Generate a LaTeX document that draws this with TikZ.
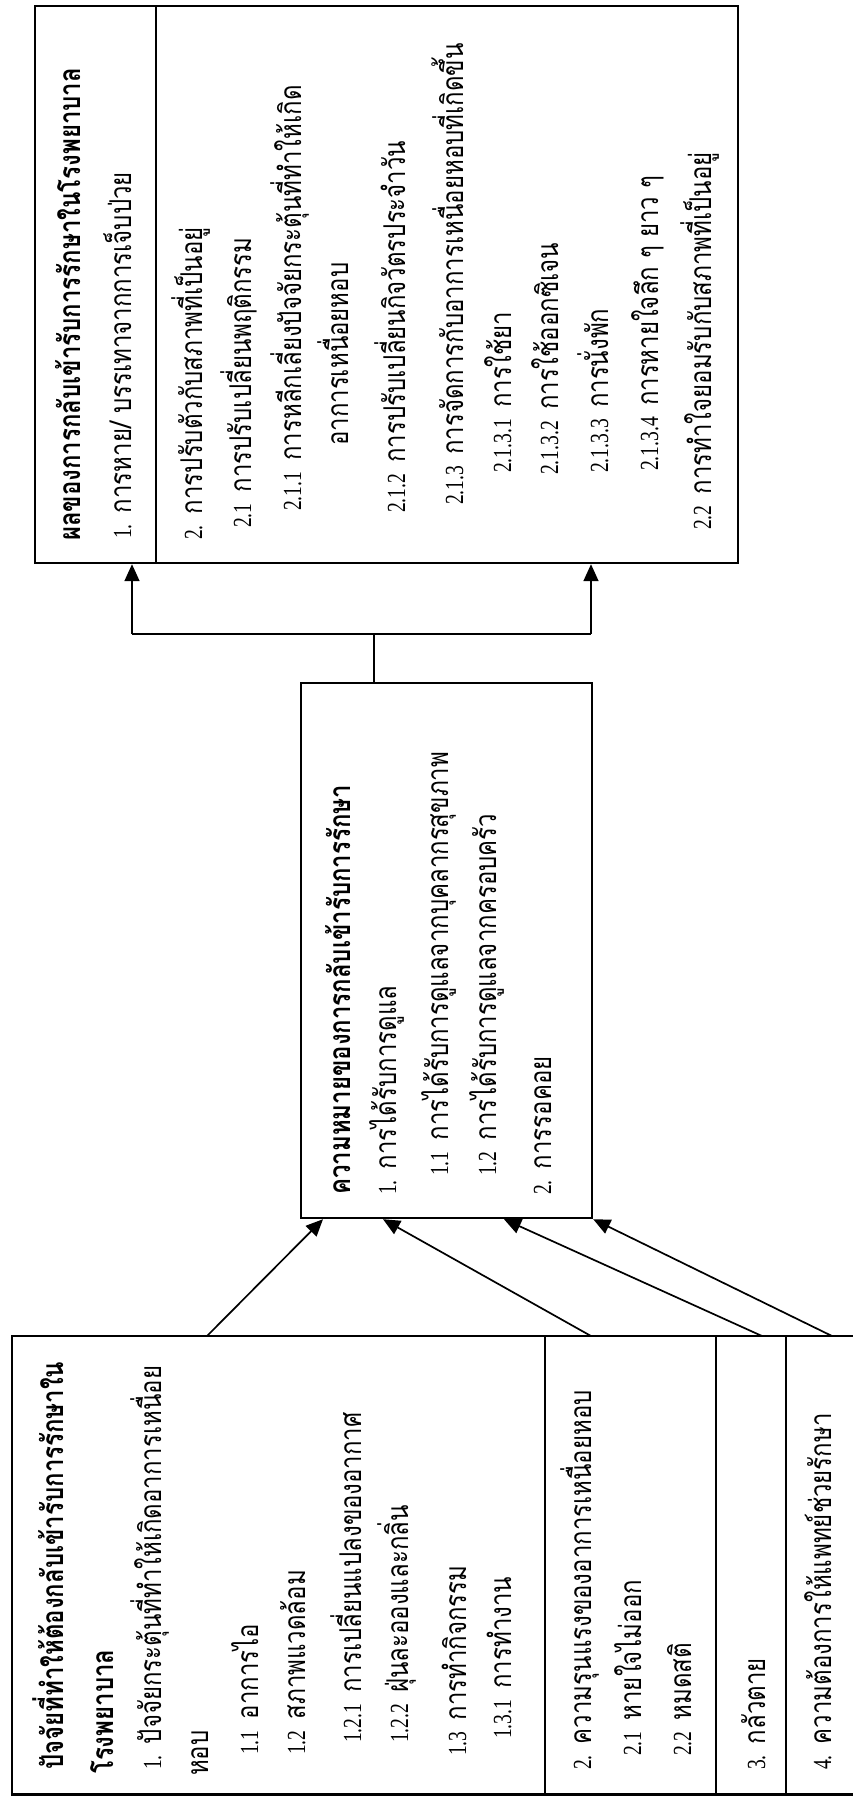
\documentclass[tikz,border=0pt]{standalone}
\usepackage{fontspec}
\setmainfont{Liberation Serif}
\newfontfamily\thf[Script=Thai,FakeStretch=0.8]{Loma}
\newfontfamily\numf[Scale=0.87,FakeStretch=0.75]{Liberation Serif}
\usetikzlibrary{arrows.meta}
\newcommand\lbl[2]{{\numf #1}\hspace{11pt}{\thf #2}}
\newcommand\tx[1]{{\thf #1}}
\begin{document}
\begin{tikzpicture}[x=1pt,y=-1pt,
  box/.style={draw, line width=2.2pt, inner sep=0pt, anchor=north west},
  sep/.style={line width=2.2pt},
  conn/.style={line width=1.7pt},
  arr/.style={conn, -{Triangle[length=17pt,width=15pt]}},
  txt/.style={rotate=90, anchor=base west, inner sep=0pt, font=\fontsize{30}{36}\selectfont},
]
\useasboundingbox (0,0) rectangle (853,1797);
\fill[white] (0,0) rectangle (853,1797);

% ---------- boxes ----------
\node[box, minimum width=703pt, minimum height=557pt] (R) at (34,5) {};
\draw[sep] (156,5) -- (156,562);
\node[box, minimum width=291pt, minimum height=535pt] (M) at (300,682) {};
\node[inner sep=0pt, anchor=north west, minimum width=841pt, minimum height=458pt] (L) at (12,1336) {};
\draw[sep] (L.north east) -- (L.north west) -- (L.south west) -- (L.south east);
\draw[sep] (545,1336) -- (545,1794);
\draw[sep] (716,1336) -- (716,1794);
\draw[sep] (786,1336) -- (786,1794);

% ---------- connectors ----------
\path (M.north west) ++(74,0) coordinate (mt);
\coordinate (b) at (374,634);
\coordinate (bl) at (132,634);
\coordinate (br) at (591,634);
\draw[conn] (mt) -- (b);
\draw[conn] (bl) -- (br);
\draw[arr] (bl) -- (bl |- R.south);
\draw[arr] (br) -- (br |- R.south);

\path (L.north west) ++(195,0) coordinate (s1);
\path (L.north west) ++(579,0) coordinate (s2);
\path (L.north west) ++(750,0) coordinate (s3);
\path (L.north west) ++(820,0) coordinate (s4);
\path (M.south west) ++(23,0) coordinate (t1);
\path (M.south west) ++(83,0) coordinate (t2);
\path (M.south west) ++(204,0) coordinate (t3);
\draw[arr] (s1) -- (t1);
\draw[arr] (s2) -- (t2);
\draw[arr] (s3) -- (t3);
\draw[arr] (s4) -- (M.south east);

% ---------- right box text ----------
\node[txt] (r0) at (80,541) {\bfseries\tx{ผลของการกลับเข้ารับการรักษาในโรงพยาบาล}};
\node[txt] (r1) at (131,539) {\lbl{1.}{การหาย/ บรรเทาจากการเจ็บป่วย}};
\node[txt] (r2) at (202,540) {\lbl{2.}{การปรับตัวกับสภาพที่เป็นอยู่}};
\node[txt] (r3) at (251,528) {\lbl{2.1}{การปรับเปลี่ยนพฤติกรรม}};
\node[txt] (r4) at (301,511) {\lbl{2.1.1}{การหลีกเลี่ยงปัจจัยกระตุ้นที่ทำให้เกิด}};
\node[txt] (r5) at (348,446) {\tx{อาการเหนื่อยหอบ}};
\node[txt] (r6) at (405,513) {\lbl{2.1.2}{การปรับเปลี่ยนกิจวัตรประจำวัน}};
\node[txt] (r7) at (463,505) {\lbl{2.1.3}{การจัดการกับอาการเหนื่อยหอบที่เกิดขึ้น}};
\node[txt] (r8) at (511,473) {\lbl{2.1.3.1}{การใช้ยา}};
\node[txt] (r9) at (558,475) {\lbl{2.1.3.2}{การใช้ออกซิเจน}};
\node[txt] (r10) at (608,473) {\lbl{2.1.3.3}{การนั่งพัก}};
\node[txt] (r11) at (658,471) {\lbl{2.1.3.4}{การหายใจลึก ๆ ยาว ๆ}};
\node[txt] (r12) at (711,530) {\lbl{2.2}{การทำใจยอมรับกับสภาพที่เป็นอยู่}};

% ---------- middle box text ----------
\node[txt] (m0) at (350,1195) {\bfseries\tx{ความหมายของการกลับเข้ารับการรักษา}};
\node[txt] (m1) at (396,1195) {\lbl{1.}{การได้รับการดูแล}};
\node[txt] (m2) at (448,1176) {\lbl{1.1}{การได้รับการดูแลจากบุคลากรสุขภาพ}};
\node[txt] (m3) at (496,1176) {\lbl{1.2}{การได้รับการดูแลจากครอบครัว}};
\node[txt] (m4) at (551,1195) {\lbl{2.}{การรอคอย}};

% ---------- left box text ----------
\node[txt] (l0) at (63,1770) {\bfseries\tx{ปัจจัยที่ทำให้ต้องกลับเข้ารับการรักษาใน}};
\node[txt] (l1) at (113,1774) {\bfseries\tx{โรงพยาบาล}};
\node[txt] (l2) at (161,1770) {\lbl{1.}{ปัจจัยกระตุ้นที่ทำให้เกิดอาการเหนื่อย}};
\node[txt] (l3) at (208,1776) {\tx{หอบ}};
\node[txt] (l4) at (258,1755) {\lbl{1.1}{อาการไอ}};
\node[txt] (l5) at (305,1755) {\lbl{1.2}{สภาพแวดล้อม}};
\node[txt] (l6) at (361,1743) {\lbl{1.2.1}{การเปลี่ยนแปลงของอากาศ}};
\node[txt] (l7) at (408,1743) {\lbl{1.2.2}{ฝุ่นละอองและกลิ่น}};
\node[txt] (l8) at (466,1756) {\lbl{1.3}{การทำกิจกรรม}};
\node[txt] (l9) at (511,1739) {\lbl{1.3.1}{การทำงาน}};
\node[txt] (l10) at (591,1770) {\lbl{2.}{ความรุนแรงของอาการเหนื่อยหอบ}};
\node[txt] (l11) at (641,1756) {\lbl{2.1}{หายใจไม่ออก}};
\node[txt] (l12) at (691,1756) {\lbl{2.2}{หมดสติ}};
\node[txt] (l13) at (765,1770) {\lbl{3.}{กลัวตาย}};
\node[txt] (l14) at (831,1770) {\lbl{4.}{ความต้องการให้แพทย์ช่วยรักษา}};
\end{tikzpicture}
\end{document}
